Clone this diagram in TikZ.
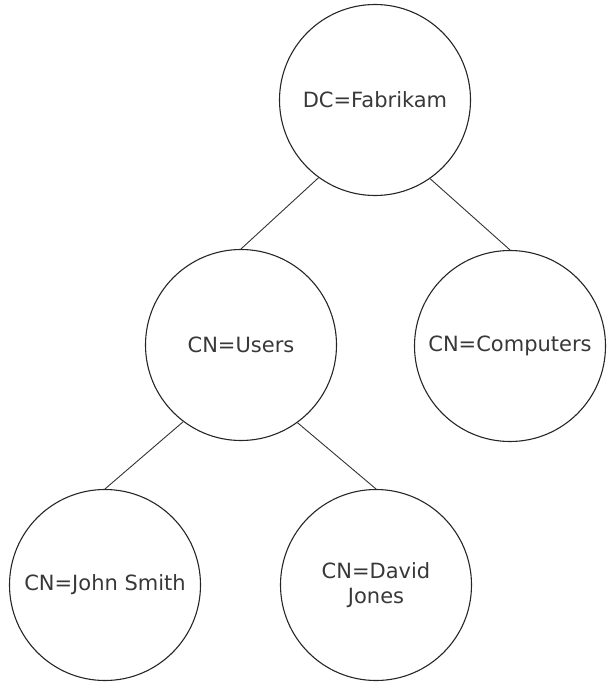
\documentclass[tikz,border=0pt]{standalone}
\usepackage{fontspec}
\setmainfont{DejaVu Sans}
\begin{document}
\begin{tikzpicture}[x=1pt,y=-1pt,
  entry/.style={circle,draw=black!85,line width=1.1pt,minimum size=191pt,inner sep=0pt,
    text=black!78,font=\fontsize{21}{25}\selectfont,align=center},
  link/.style={draw=black!80,line width=0.9pt}]
  \useasboundingbox (0,0) rectangle (606,682);
  % directory tree: domain root, two containers, two user objects
  \node[entry] (fab) at (375,100) {DC=Fabrikam};
  \node[entry] (users) at (241,345) {CN=Users};
  \node[entry] (comp) at (510,346) {CN=Computers};
  \node[entry] (john) at (105,585) {CN=John Smith};
  \node[entry] (david) at (376,585) {CN=David\\Jones};
  \draw[link] (fab.234) -- (users.north);
  \draw[link] (fab.305) -- (comp.north);
  \draw[link] (users.233) -- (john.north);
  \draw[link] (users.306) -- (david.north);
\end{tikzpicture}
\end{document}
